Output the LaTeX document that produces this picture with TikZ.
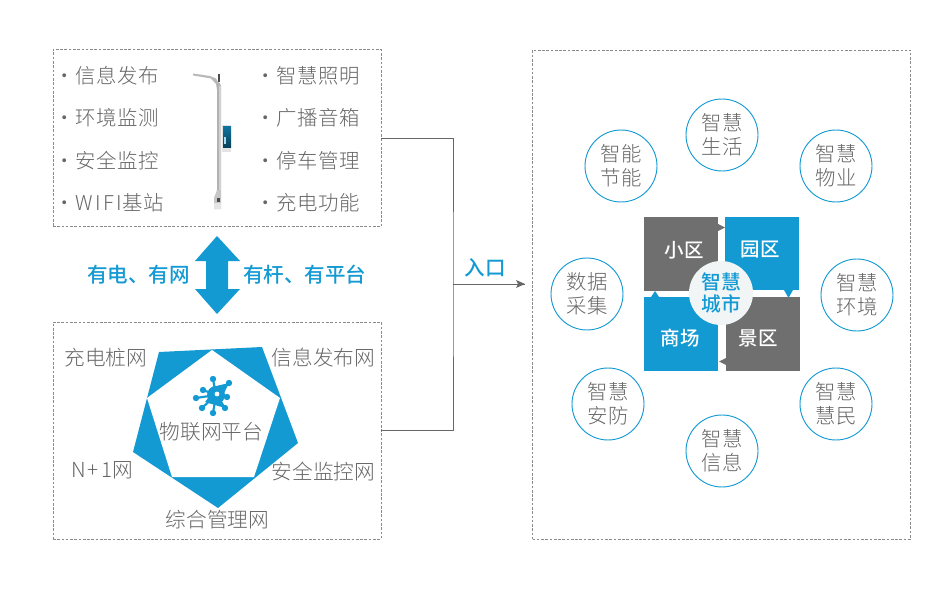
\documentclass[tikz,border=0pt]{standalone}
\usepackage{fontspec}
\setmainfont{Noto Sans CJK SC Light}
\newfontfamily\medfont{Noto Sans CJK SC Medium}
\definecolor{brand}{HTML}{149AD3}
\definecolor{slate}{HTML}{706F70}
\definecolor{txt}{HTML}{666666}
\definecolor{dash}{HTML}{8A8A8A}
\definecolor{hub}{HTML}{F1F5F6}
\newcommand{\fsz}[2]{\fontsize{#1pt}{#2pt}\selectfont}
\newcommand{\bul}[1]{\makebox[15.75pt][l]{·}\addfontfeature{LetterSpace=3.5}#1}
\tikzset{
  x=0.75pt,y=-0.75pt,
  dbox/.style={draw=dash,dashed,dash pattern=on 2pt off 1.2pt,line width=0.6pt,inner sep=0,fill=none},
  item/.style={text=txt,anchor=west,inner sep=0,font=\fsz{15.3}{18}},
  lab/.style={text=txt,inner sep=0,font=\fsz{15.5}{18}},
  blab/.style={text=brand,inner sep=0,font=\fsz{15.4}{18}\medfont},
  ring/.style={circle,draw=brand,line width=0.7pt,fill=white,minimum size=54pt,inner sep=0,align=center,text=txt,font=\fsz{15.3}{18}},
  quadlab/.style={text=white,inner sep=0,font=\fsz{14.6}{18}\medfont},
  link/.style={draw=txt,line width=0.6pt},
}
\begin{document}
\begin{tikzpicture}
\useasboundingbox (0,0) rectangle (947,592);
\fill[white] (0,0) rectangle (947,592);
% boxes
\node[dbox,minimum width=246pt,minimum height=133pt] (boxa) at (217,138.2) {};
\node[dbox,minimum width=246pt,minimum height=162.75pt] (boxb) at (217,430.5) {};
\node[dbox,minimum width=283.5pt,minimum height=367pt] (boxc) at (721.5,294.6) {};
% connectors
\coordinate (jn) at (453,284);
\coordinate (tip) at (525,284);
\draw[link] (boxa.east) -| (jn) |- (boxb.east);
\draw[link] (jn) -- (tip);
\fill[txt] (tip) -- ++(-9,-4) -- ++(2,4) -- ++(-2,4) -- cycle;
\node[blab] (entry) at (485,268) {入口};
% left items
\node[item] (a1) at (54,76) {\bul{信息发布}};
\node[item] (a2) at (54,118) {\bul{环境监测}};
\node[item] (a3) at (54,161) {\bul{安全监控}};
\node[item] (a4) at (54,203) {\bul{\addfontfeature{LetterSpace=12}WIFI\addfontfeature{LetterSpace=3.5}基站}};
\node[item] (b1) at (255,76) {\bul{智慧照明}};
\node[item] (b2) at (255,118) {\bul{广播音箱}};
\node[item] (b3) at (255,161) {\bul{停车管理}};
\node[item] (b4) at (255,203) {\bul{充电功能}};
% pole
\fill[gray!55] (193,73.5) -- (210,76) -- (216,78.5) -- (219,84) -- (219,90) -- (217,90) -- (216,84) -- (211,78.5) -- (193,75.5) -- cycle;
\fill[gray!60!black] (217.5,74) rectangle (219.5,82);
\fill[gray!60] (217,84) .. controls (217,81) and (220,82) .. (221,86) -- (221,190) -- (217,190) -- cycle;
\fill[gray!35] (219.3,86) rectangle (221,190);
\fill[gray!45] (217,190) -- (221,190) -- (221,209) -- (214,209) -- (214,198) -- cycle;
\fill[gray!20] (214,203) rectangle (221,209);
\fill[black!70] (217,198) rectangle (219.5,202);
\fill[gray!22] (222,125.5) rectangle (231,152);
\shade[top color=brand!75!black,bottom color=brand!40!black] (223,126.5) rectangle (231,148);
\fill[brand!35] (224,137) rectangle (226,144);
% double arrow
\fill[brand] (217,236) -- (240,261) -- (228,261) -- (228,289) -- (240,289) -- (217,314) -- (195,289) -- (206,289) -- (206,261) -- (195,261) -- cycle;
\node[blab,anchor=west] (pa) at (87,275) {有电、有网};
\node[blab,anchor=west] (pb) at (243,275) {有杆、有平台};
% pentagon
\fill[brand] (159,352) -- (262,347) -- (298,443) -- (218,508) -- (133,452) -- cycle;
\fill[white] (212,350) -- (280,398) -- (254,477) -- (172,477) -- (147,398) -- cycle;
% icon
\foreach \px/\py in {213/379,229/383,227/397,225/408,213/413,202/408,196/398,203/390}{
  \draw[brand,line width=1.6pt] (216,395) -- (\px,\py);
  \fill[brand] (\px,\py) circle[radius=3.2];
}
\fill[brand] (216,395) circle[radius=9];
\fill[brand] (212,387) -- (229,383) -- (223,395) -- cycle;
\fill[brand] (205,402) -- (216,388) -- (225,408) -- cycle;
\fill[white] (217,394) circle[radius=2.4];
% pentagon labels
\node[lab] (n0) at (211.5,432) {物联网平台};
\node[lab] (n1) at (106,358) {充电桩网};
\node[lab] (n2) at (323.5,358) {信息发布网};
\node[lab] (n3) at (102,470) {\addfontfeature{LetterSpace=10}N+1\addfontfeature{LetterSpace=0}网};
\node[lab] (n4) at (323.5,471) {安全监控网};
\node[lab] (n5) at (217.5,520) {综合管理网};
% rings
\node[ring] (r1) at (722,135) {智慧\\生活};
\node[ring] (r2) at (836,166) {智慧\\物业};
\node[ring] (r3) at (857,295) {智慧\\环境};
\node[ring] (r4) at (836,404) {智慧\\慧民};
\node[ring] (r5) at (722,451) {智慧\\信息};
\node[ring] (r6) at (608,404) {智慧\\安防};
\node[ring] (r7) at (587,294) {数据\\采集};
\node[ring] (r8) at (621,166) {智能\\节能};
% quadrants
\fill[slate] (644,217) rectangle (718,291);
\fill[slate] (718,224) -- (725,227.5) -- (718,231) -- cycle;
\fill[brand] (725,217) rectangle (799,290);
\fill[brand] (784,290) -- (793,290) -- (788.5,298) -- cycle;
\fill[slate] (726,297) rectangle (800,371);
\fill[slate] (726,358) -- (726,365) -- (719,361.5) -- cycle;
\fill[brand] (644,297) rectangle (718,371);
\fill[brand] (651,297) -- (659,297) -- (655,291) -- cycle;
\node[quadlab] (q1) at (684,250) {小区};
\node[quadlab] (q2) at (760,250) {园区};
\node[quadlab] (q3) at (680,338) {商场};
\node[quadlab] (q4) at (758,338) {景区};
\node[circle,fill=hub,minimum size=48pt,inner sep=0,align=center,text=brand,font=\fsz{14.8}{17.2}\medfont] (hubn) at (721,293) {智慧\\城市};
\end{tikzpicture}
\end{document}
